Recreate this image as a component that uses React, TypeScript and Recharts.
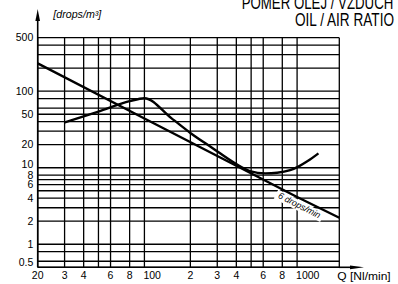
import React from 'react';
import { LineChart, Line, XAxis, YAxis, CartesianGrid } from 'recharts';

// grid lines (log scales) and the labels printed on some of them
const xGrid = [20, 30, 40, 50, 60, 80, 100, 200, 300, 400, 500, 600, 800, 1000, 1890];
const xLabels: Record<number, string> = {
  20: '20', 30: '3', 40: '4', 60: '6', 80: '8', 100: '100',
  200: '2', 300: '3', 400: '4', 600: '6', 800: '8', 1000: '1000',
};
const yGrid = [0.5, 0.6, 0.8, 1, 2, 3, 4, 5, 6, 7, 8, 10, 20, 30, 40, 50, 60, 80, 100, 200, 300, 400, 500];
const yLabels: Record<number, string> = {
  0.5: '0.5', 1: '1', 2: '2', 4: '4', 6: '6', 8: '8', 10: '10',
  20: '20', 50: '50', 100: '100', 500: '500',
};

// 6 drops/min line
const lineQ = [20, 100, 1000, 1890];
const lineDrops = [231, 44, 4.15, 2.22];

// oil / air ratio curve
const curveQ = [30, 50, 80, 100, 150, 200, 280, 390, 490, 620, 740, 900, 1020, 1180, 1380];
const curveDrops = [39, 54, 74, 81, 44.5, 28.5, 18, 11.5, 9.05, 8.45, 8.6, 9.3, 10.35, 12.3, 15.4];

const lineData = lineQ.map((q, i) => ({ q, v: lineDrops[i] }));
const curveData = curveQ.map((q, i) => ({ q, v: curveDrops[i] }));

const FONT = '"Liberation Sans", Arial, Helvetica, sans-serif';

const XTick = (props: any) => {
  const { x, y, payload } = props;
  const label = xLabels[payload.value];
  if (!label) return null;
  const wide = label.length > 2;
  return (
    <text x={wide ? x - 1 : x} y={y + 12} textAnchor={wide ? 'start' : 'middle'}
      fontSize={10.5} fontFamily={FONT} fill="#000">{label}</text>
  );
};

const YTick = (props: any) => {
  const { x, y, payload } = props;
  const label = yLabels[payload.value];
  if (!label) return null;
  const shift = payload.value === 10 ? -4 : payload.value === 0.5 ? -5 : 0;
  return (
    <text x={x - 4.4} y={y + shift} dy="0.36em" textAnchor="end"
      fontSize={10.5} fontFamily={FONT} fill="#000">{label}</text>
  );
};

export default function App() {
  return (
    <div style={{ position: 'absolute', left: 0, top: 0, width: 398, height: 284, background: '#fff' }}>
      <LineChart width={398} height={284} margin={{ top: 37.7, right: 58.7, bottom: 0, left: 0 }}>
        <CartesianGrid stroke="#000" strokeWidth={1.3} />
        <XAxis type="number" dataKey="q" scale="log" domain={[20, 1890]} ticks={xGrid}
          allowDataOverflow interval={0} height={16.7} tickSize={0} tickMargin={0}
          tickLine={false} axisLine={{ stroke: '#000', strokeWidth: 1.6 }} tick={<XTick />} />
        <YAxis type="number" scale="log" domain={[0.5, 500]} ticks={yGrid}
          allowDataOverflow interval={0} width={37.7} tickSize={0} tickMargin={0}
          tickLine={false} axisLine={{ stroke: '#000', strokeWidth: 1.6 }} tick={<YTick />} />
        <Line data={lineData} dataKey="v" type="linear" stroke="#000" strokeWidth={2.4}
          dot={false} isAnimationActive={false} />
        <Line data={curveData} dataKey="v" type="monotone" stroke="#000" strokeWidth={2.4}
          dot={false} isAnimationActive={false} />
      </LineChart>
      <svg width={398} height={284} style={{ position: 'absolute', left: 0, top: 0, pointerEvents: 'none' }}>
        <line x1={37.7} y1={38} x2={37.7} y2={18} stroke="#000" strokeWidth={1.6} />
        <polygon points="37.7,9 35.4,21 40,21" fill="#000" />
        <line x1={339} y1={267.3} x2={352} y2={267.3} stroke="#000" strokeWidth={1.6} />
        <polygon points="364,267.3 350,265.4 350,269.2" fill="#000" />
        <text x={53.3} y={18} fontStyle="italic" fontSize={10} fontFamily={FONT}
          textLength={48} lengthAdjust="spacingAndGlyphs">[drops/m³]</text>
        <text x={241.7} y={9} fontSize={17.5} fontFamily={FONT}
          textLength={151.6} lengthAdjust="spacingAndGlyphs">POMĚR OLEJ / VZDUCH</text>
        <text x={295} y={26.3} fontSize={17.5} fontFamily={FONT}
          textLength={99} lengthAdjust="spacingAndGlyphs">OIL / AIR RATIO</text>
        <text x={337.3} y={279.5} fontSize={11} fontFamily={FONT}
          textLength={53.4} lengthAdjust="spacingAndGlyphs">Q [Nl/min]</text>
        <g transform="translate(299.2,205.8) rotate(27.1)">
          <rect x={-26} y={-5} width={52} height={10} fill="#fff" />
          <text x={-23} y={2.5} fontStyle="italic" fontSize={9} fontFamily={FONT}
            textLength={46} lengthAdjust="spacingAndGlyphs">6 drops/min</text>
        </g>
      </svg>
    </div>
  );
}
